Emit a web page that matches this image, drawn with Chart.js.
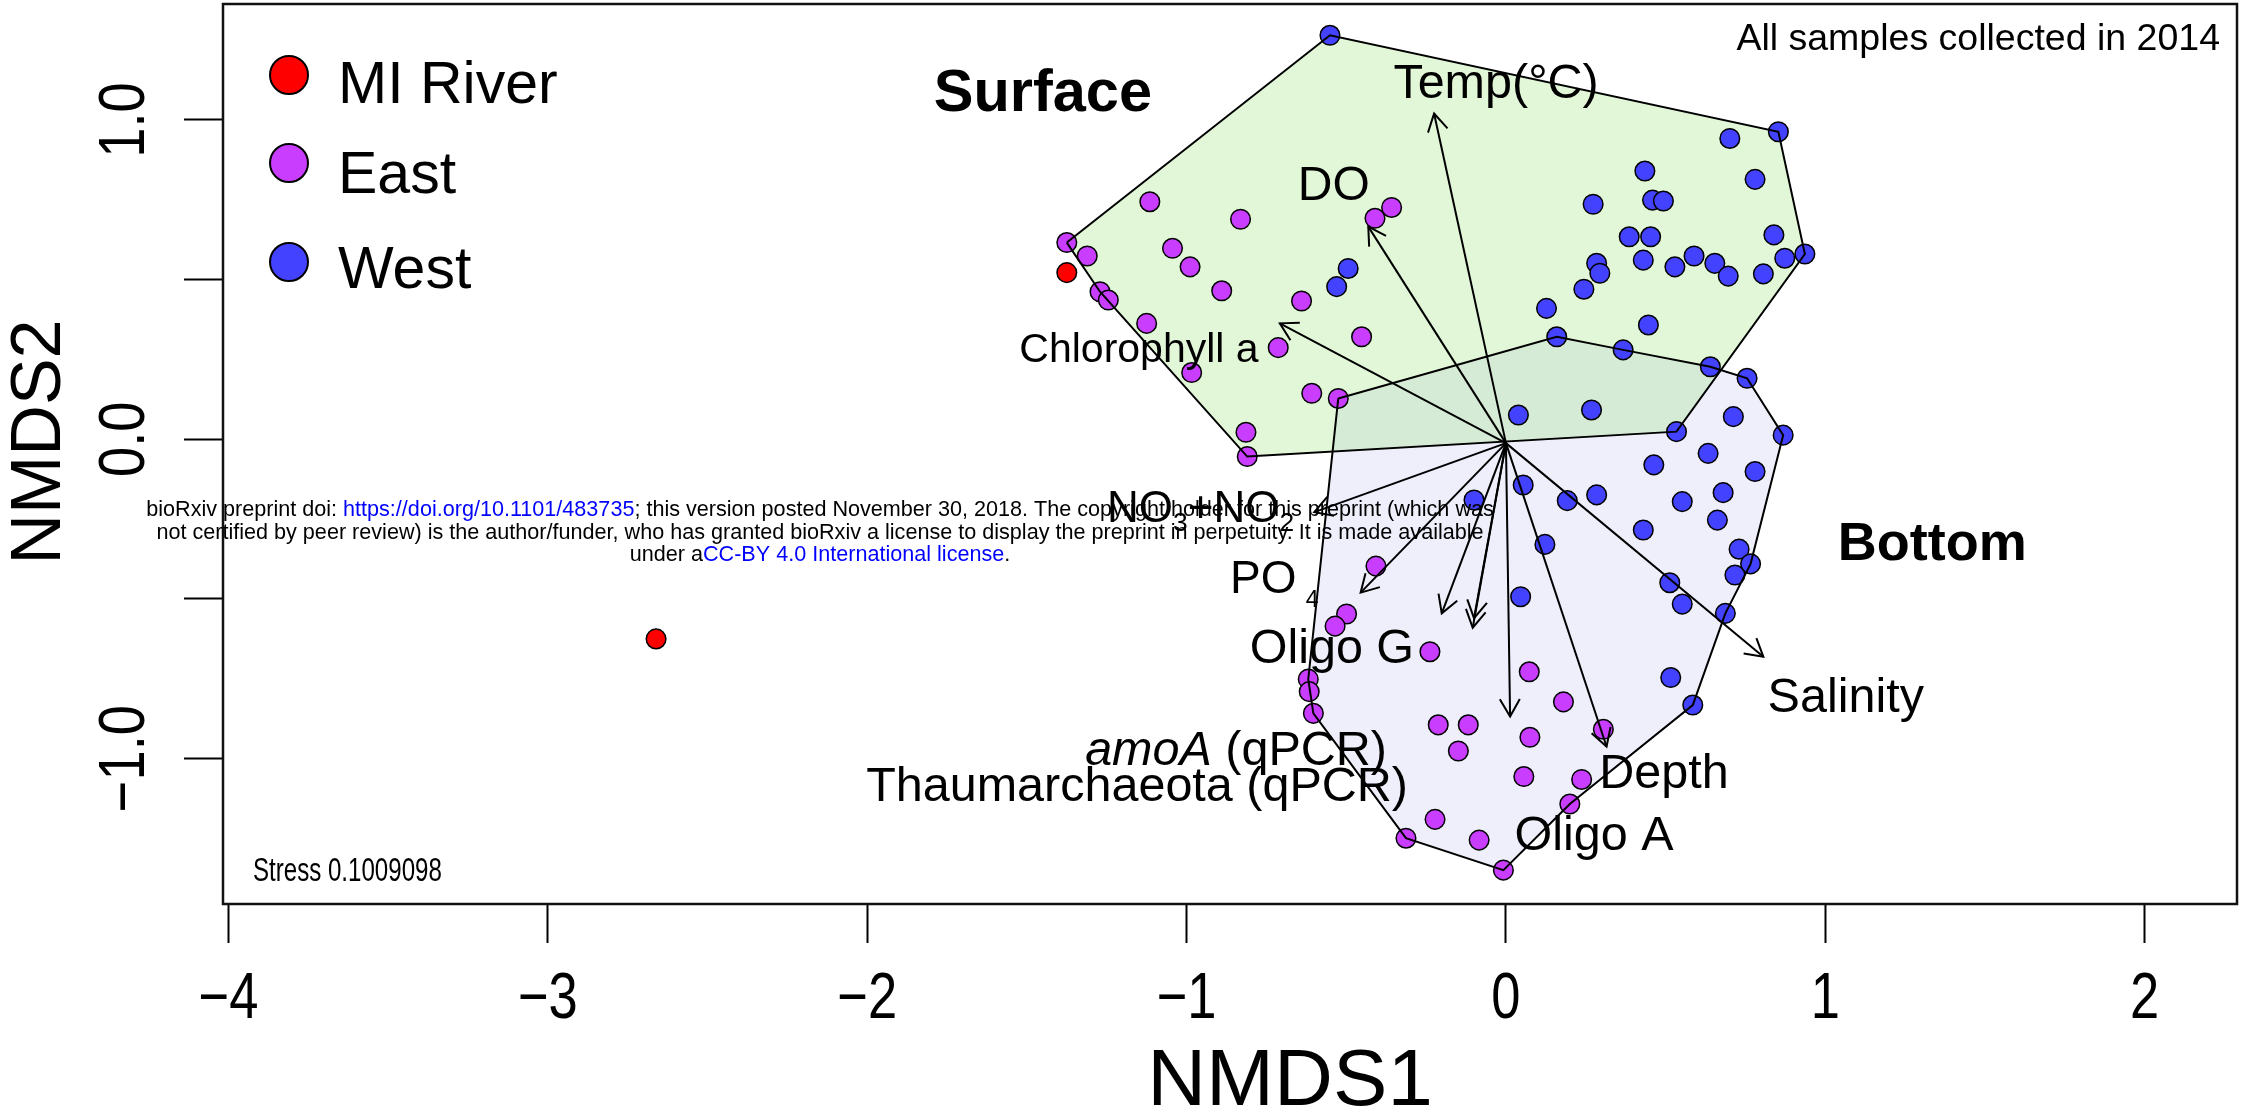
<!DOCTYPE html>
<html>
<head>
<meta charset="utf-8">
<script src="https://cdn.jsdelivr.net/npm/chart.js"></script>
<style>
  html, body { margin: 0; padding: 0; background: #fff; }
  canvas { display: block; }
</style>
</head>
<body>
<canvas id="nmds" width="2251" height="1112"></canvas>
<script>
// NMDS scores: [NMDS1, NMDS2]
var miRiver = [[-1.375, 0.522], [-2.661, -0.625]];

var east = [
  [-1.375, 0.616], [-1.311, 0.574], [-1.271, 0.462], [-1.245, 0.436], [-1.125, 0.363],
  [-1.115, 0.744], [-0.831, 0.689], [-1.044, 0.598], [-0.989, 0.540], [-0.890, 0.465],
  [-0.640, 0.433], [-0.452, 0.321], [-0.713, 0.287], [-0.984, 0.209], [-0.608, 0.144],
  [-0.525, 0.128], [-0.814, 0.022], [-0.810, -0.054], [-0.410, 0.692], [-0.358, 0.726],
  [-0.407, -0.397], [-0.499, -0.547], [-0.535, -0.585], [-0.238, -0.665], [-0.619, -0.751],
  [-0.616, -0.790], [-0.603, -0.858], [-0.313, -1.249], [0.073, -0.728], [0.180, -0.822],
  [0.305, -0.908], [-0.212, -0.894], [-0.118, -0.894], [-0.149, -0.976], [0.075, -0.933],
  [0.056, -1.056], [0.237, -1.065], [0.200, -1.142], [-0.222, -1.190], [-0.084, -1.255],
  [-0.008, -1.349]
];

var west = [
  [-0.551, 1.265], [-0.494, 0.535], [-0.530, 0.478], [0.853, 0.963], [0.701, 0.942],
  [0.435, 0.840], [0.780, 0.814], [0.273, 0.736], [0.459, 0.749], [0.493, 0.746],
  [0.386, 0.634], [0.453, 0.634], [0.839, 0.640], [0.936, 0.580], [0.873, 0.567],
  [0.284, 0.551], [0.294, 0.520], [0.430, 0.561], [0.529, 0.540], [0.589, 0.574],
  [0.654, 0.551], [0.696, 0.511], [0.806, 0.518], [0.244, 0.470], [0.127, 0.410],
  [0.159, 0.321], [0.446, 0.358], [0.367, 0.280], [0.640, 0.227], [0.755, 0.191],
  [0.039, 0.076], [0.268, 0.092], [0.534, 0.024], [0.712, 0.071], [0.868, 0.013],
  [0.633, -0.044], [0.463, -0.080], [0.780, -0.101], [0.054, -0.143], [-0.100, -0.190],
  [0.192, -0.192], [0.284, -0.174], [0.552, -0.195], [0.680, -0.167], [0.662, -0.253],
  [0.122, -0.329], [0.430, -0.284], [0.730, -0.344], [0.766, -0.390], [0.717, -0.425],
  [0.513, -0.449], [0.552, -0.516], [0.687, -0.545], [0.046, -0.493], [0.516, -0.746],
  [0.585, -0.832]
];

// hull vertices (ordihull by depth)
var surfaceHull = [
  [-1.375, 0.616], [-1.271, 0.462], [-0.810, -0.054], [0.534, 0.024],
  [0.936, 0.580], [0.853, 0.963], [-0.551, 1.265]
];
var bottomHull = [
  [-0.525, 0.128], [-0.619, -0.751], [-0.603, -0.858], [-0.313, -1.249], [-0.008, -1.349],
  [0.200, -1.142], [0.585, -0.832], [0.687, -0.545], [0.766, -0.390], [0.868, 0.013],
  [0.755, 0.191], [0.640, 0.227], [0.367, 0.280], [0.159, 0.321]
];

// envfit vectors
var arrowNames = ["Temp(°C)", "DO", "Chlorophyll a", "NO3+NO2", "PO4", "Oligo G",
  "amoA (qPCR)", "Thaumarchaeota (qPCR)", "Oligo A", "Depth", "Salinity"];
var arrowX = [-0.225, -0.431, -0.708, -0.600, -0.455, -0.201, -0.100, -0.104, 0.013, 0.315, 0.806];
var arrowY = [1.020, 0.666, 0.363, -0.228, -0.480, -0.545, -0.560, -0.590, -0.868, -0.962, -0.681];
var arrowOrigin = [0, -0.012];

// axes
var xTicks = [-4, -3, -2, -1, 0, 1, 2];
var xTickLabels = ["\u22124", "\u22123", "\u22122", "\u22121", "0", "1", "2"];
var yTicks = [-1, -0.5, 0, 0.5, 1];
var yTickLabels = ["\u22121.0", "", "0.0", "", "1.0"];

var FONT = '"Liberation Sans", Arial, Helvetica, sans-serif';

// where the vector labels sit (data units, baseline)
var labelPlace = {
  "Temp(°C)": [-0.031, 1.069, 48.5, "center"],
  "DO": [-0.539, 0.749, 48, "center"],
  "Chlorophyll a": [-1.149, 0.242, 41, "center"],
  "NO3+NO2": [-1.249, -0.259, 44, "left"],
  "PO4": [-0.864, -0.481, 46, "left"],
  "Oligo G": [-0.545, -0.700, 48.5, "center"],
  "amoA (qPCR)": [-0.845, -1.020, 48.5, "center"],
  "Thaumarchaeota (qPCR)": [-1.155, -1.132, 48.5, "center"],
  "Oligo A": [0.276, -1.286, 48.5, "center"],
  "Depth": [0.495, -1.092, 48.5, "center"],
  "Salinity": [1.064, -0.854, 48.5, "center"]
};

function pts(arr) {
  return arr.map(function (p) { return { x: p[0], y: p[1] }; });
}
function closed(arr) {
  return pts(arr.concat([arr[0]]));
}

// draws a row of text pieces; sx squeezes the text horizontally
function richText(ctx, parts, x, y, align, sx) {
  sx = sx || 1;
  var w = 0;
  parts.forEach(function (p) {
    ctx.font = (p.style ? p.style + " " : "") + p.size + "px " + FONT;
    p.w = ctx.measureText(p.t).width + (p.dx || 0);
    w += p.w;
  });
  var cx = align === "center" ? -w / 2 : align === "right" ? -w : 0;
  ctx.save();
  ctx.translate(x, y);
  ctx.scale(sx, 1);
  ctx.textAlign = "left";
  ctx.textBaseline = "alphabetic";
  parts.forEach(function (p) {
    ctx.font = (p.style ? p.style + " " : "") + p.size + "px " + FONT;
    ctx.fillStyle = p.color || "#000";
    ctx.fillText(p.t, cx + (p.dx || 0), p.dy || 0);
    cx += p.w;
  });
  ctx.restore();
  return w * sx;
}

function labelParts(name, size) {
  if (name === "NO3+NO2") {
    return [{ t: "NO", size: size }, { t: "3", size: size * 0.6, dy: size * 0.2 },
      { t: "+NO", size: size }, { t: "2", size: size * 0.6, dy: size * 0.2 }];
  }
  if (name === "PO4") {
    return [{ t: "PO", size: size }, { t: "4", size: size * 0.5, dy: size * 0.3, dx: size * 0.2 }];
  }
  if (name === "amoA (qPCR)") {
    return [{ t: "amoA", size: size, style: "italic" }, { t: " (qPCR)", size: size }];
  }
  return [{ t: name, size: size }];
}

var datasets = [
  {
    type: "line", data: closed(bottomHull), fill: "shape",
    backgroundColor: "rgba(170,175,235,0.2)", borderColor: "rgba(0,0,0,0)",
    borderWidth: 0, pointRadius: 0, order: 51
  },
  {
    type: "line", data: closed(surfaceHull), fill: "shape",
    backgroundColor: "rgba(140,225,100,0.25)", borderColor: "rgba(0,0,0,0)",
    borderWidth: 0, pointRadius: 0, order: 50
  },
  {
    label: "MI River", data: pts(miRiver), backgroundColor: "#ff0000",
    borderColor: "#000", borderWidth: 1.5, pointRadius: 9.8, order: 42
  },
  {
    label: "East", data: pts(east), backgroundColor: "#c93dff",
    borderColor: "#000", borderWidth: 1.5, pointRadius: 9.8, order: 41
  },
  {
    label: "West", data: pts(west), backgroundColor: "#4343ff",
    borderColor: "#000", borderWidth: 1.5, pointRadius: 9.8, order: 40
  },
  {
    type: "line", data: closed(surfaceHull), fill: false, borderColor: "#000",
    borderWidth: 2, pointRadius: 0, order: 30
  },
  {
    type: "line", data: closed(bottomHull), fill: false, borderColor: "#000",
    borderWidth: 2, pointRadius: 0, order: 30
  }
];

arrowNames.forEach(function (name, i) {
  datasets.push({
    type: "line", label: name,
    data: pts([arrowOrigin, [arrowX[i], arrowY[i]]]),
    fill: false, borderColor: "#000", borderWidth: 2, pointRadius: 0, order: 20
  });
});

//Arrow heads at the end of each vector
var arrowHeads = {
  id: "arrowHeads",
  afterDatasetsDraw: function (chart) {
    var ctx = chart.ctx, sx = chart.scales.x, sy = chart.scales.y;
    var x0 = sx.getPixelForValue(arrowOrigin[0]);
    var y0 = sy.getPixelForValue(arrowOrigin[1]);
    ctx.save();
    ctx.strokeStyle = "#000";
    ctx.lineWidth = 2;
    arrowX.forEach(function (ax, i) {
      var x1 = sx.getPixelForValue(ax), y1 = sy.getPixelForValue(arrowY[i]);
      var a = Math.atan2(y1 - y0, x1 - x0), L = 20, w = Math.PI / 6;
      ctx.beginPath();
      ctx.moveTo(x1 - L * Math.cos(a - w), y1 - L * Math.sin(a - w));
      ctx.lineTo(x1, y1);
      ctx.lineTo(x1 - L * Math.cos(a + w), y1 - L * Math.sin(a + w));
      ctx.stroke();
    });
    ctx.restore();
  }
};

//Box, tick labels, titles, legend and notes
var annotations = {
  id: "annotations",
  afterDraw: function (chart) {
    var ctx = chart.ctx, sx = chart.scales.x, sy = chart.scales.y, a = chart.chartArea;
    ctx.save();

    ctx.strokeStyle = "#111";
    ctx.lineWidth = 2.5;
    ctx.strokeRect(a.left, a.top, a.right - a.left, a.bottom - a.top);

    sx.ticks.forEach(function (t) {
      var lab = xTickLabels[xTicks.indexOf(t.value)];
      richText(ctx, [{ t: lab, size: 64 }], sx.getPixelForValue(t.value), 1018, "center", 0.82);
    });
    sy.ticks.forEach(function (t) {
      var lab = yTickLabels[yTicks.indexOf(t.value)];
      if (!lab) return;
      ctx.save();
      ctx.translate(143.5, sy.getPixelForValue(t.value));
      ctx.rotate(-Math.PI / 2);
      richText(ctx, [{ t: lab, size: 64 }], 0, 0, "center", 0.85);
      ctx.restore();
    });

    richText(ctx, [{ t: "NMDS1", size: 80 }], 1290, 1105, "center", 1.02);
    ctx.save();
    ctx.translate(60, 442);
    ctx.rotate(-Math.PI / 2);
    richText(ctx, [{ t: "NMDS2", size: 70 }], 0, 0, "center");
    ctx.restore();

    // legend
    var legendNames = ["MI River", "East", "West"];
    var legendColors = ["#ff0000", "#c93dff", "#4343ff"];
    var legendY = [75, 163, 262], legendBase = [103, 193, 288];
    legendNames.forEach(function (n, i) {
      ctx.beginPath();
      ctx.arc(289, legendY[i], 19, 0, Math.PI * 2);
      ctx.fillStyle = legendColors[i];
      ctx.fill();
      ctx.lineWidth = 2;
      ctx.strokeStyle = "#000";
      ctx.stroke();
      richText(ctx, [{ t: n, size: 59 }], 338, legendBase[i], "left");
    });

    richText(ctx, [{ t: "All samples collected in 2014", size: 37.5 }], 2220, 50, "right");
    richText(ctx, [{ t: "Stress 0.1009098", size: 33 }], 253, 881, "left", 0.73);

    richText(ctx, [{ t: "Surface", size: 59.5, style: "bold" }],
      sx.getPixelForValue(-1.450), sy.getPixelForValue(1.028), "center");
    richText(ctx, [{ t: "Bottom", size: 54, style: "bold" }],
      sx.getPixelForValue(1.335), sy.getPixelForValue(-0.378), "center");

    arrowNames.forEach(function (name) {
      var p = labelPlace[name];
      richText(ctx, labelParts(name, p[2]), sx.getPixelForValue(p[0]), sy.getPixelForValue(p[1]), p[3]);
    });

    // bioRxiv watermark
    var blue = "#0000ff";
    var wm = [
      [{ t: "bioRxiv preprint doi: " }, { t: "https://doi.org/10.1101/483735", color: blue },
        { t: "; this version posted November 30, 2018. The copyright holder for this preprint (which was" }],
      [{ t: "not certified by peer review) is the author/funder, who has granted bioRxiv a license to display the preprint in perpetuity. It is made available" }],
      [{ t: "under a" }, { t: "CC-BY 4.0 International license", color: blue }, { t: "." }]
    ];
    ctx.font = "20px " + FONT;
    var w1 = 0;
    wm[0].forEach(function (p) { w1 += ctx.measureText(p.t).width; });
    var wmSize = 20 * 1348 / w1;
    var wmBase = [516, 539, 561];
    wm.forEach(function (line, i) {
      line.forEach(function (p) { p.size = wmSize; });
      richText(ctx, line, 820, wmBase[i], "center");
    });

    ctx.restore();
  }
};

new Chart(document.getElementById("nmds").getContext("2d"), {
  type: "scatter",
  data: { datasets: datasets },
  options: {
    responsive: false,
    animation: false,
    events: [],
    layout: { autoPadding: false, padding: { top: 4, right: 14, bottom: 0, left: 0 } },
    plugins: {
      legend: { display: false },
      tooltip: { enabled: false }
    },
    scales: {
      x: {
        type: "linear",
        min: -4.017,
        max: 2.289,
        afterBuildTicks: function (s) {
          s.ticks = xTicks.map(function (v) { return { value: v }; });
        },
        afterFit: function (s) { s.height = 208; },
        ticks: { display: false },
        grid: { drawOnChartArea: false, drawTicks: true, tickLength: 39, tickWidth: 2, tickColor: "#000" },
        border: { display: false }
      },
      y: {
        type: "linear",
        min: -1.455,
        max: 1.363,
        afterBuildTicks: function (s) {
          s.ticks = yTicks.map(function (v) { return { value: v }; });
        },
        afterFit: function (s) { s.width = 223; },
        ticks: { display: false },
        grid: { drawOnChartArea: false, drawTicks: true, tickLength: 39, tickWidth: 2, tickColor: "#000" },
        border: { display: false }
      }
    }
  },
  plugins: [arrowHeads, annotations]
});
</script>
</body>
</html>
